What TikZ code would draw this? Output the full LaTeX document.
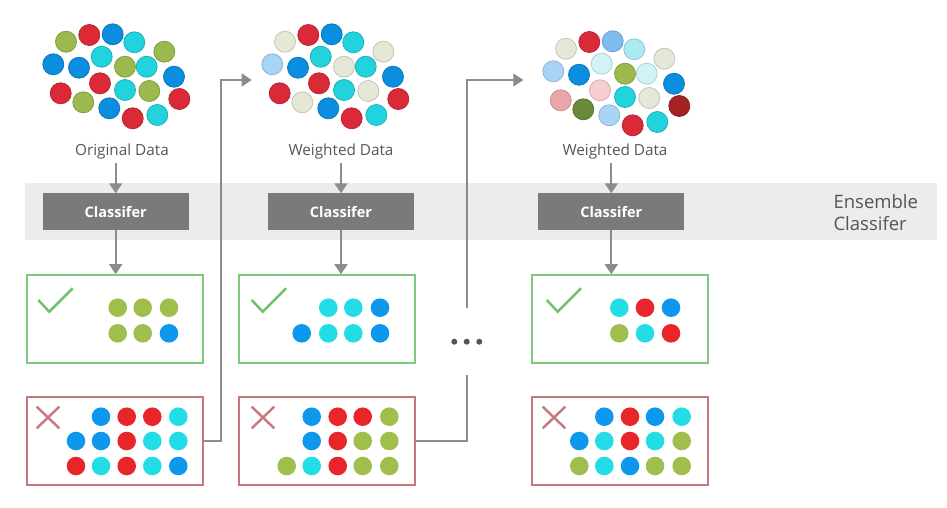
\documentclass[tikz,border=0pt]{standalone}
\usepackage{fontspec}
\setmainfont{Open Sans}
\usetikzlibrary{arrows.meta}

\definecolor{bandgray}{HTML}{ECECEC}
\definecolor{clfgray}{HTML}{7A7A7A}
\definecolor{linegray}{HTML}{8C8C8C}
\definecolor{textgray}{HTML}{555555}
\definecolor{okgreen}{HTML}{80C87B}
\definecolor{badred}{HTML}{C8767D}
\definecolor{tickgreen}{HTML}{6FC26B}
\definecolor{crossred}{HTML}{C97A80}
% cloud colours
\definecolor{cgreen}{HTML}{9BB94D}
\definecolor{cred}{HTML}{DA2A38}
\definecolor{cblue}{HTML}{0C8EE0}
\definecolor{ccyan}{HTML}{22D2DC}
\definecolor{cpale}{HTML}{E5E7D7}
\definecolor{clblue}{HTML}{A8D4F6}
\definecolor{cmblue}{HTML}{7FBCF0}
\definecolor{clcyan}{HTML}{ABEAF0}
\definecolor{cvcyan}{HTML}{D0F3F6}
\definecolor{cpink}{HTML}{EBA6A9}
\definecolor{clpink}{HTML}{F5CDD3}
\definecolor{cdgreen}{HTML}{6A8A3A}
\definecolor{cdred}{HTML}{A42222}
% dot colours
\definecolor{dgreen}{HTML}{A0BE4C}
\definecolor{dred}{HTML}{E8262A}
\definecolor{dblue}{HTML}{0D98EE}
\definecolor{dcyan}{HTML}{22DDE6}

\begin{document}
\begin{tikzpicture}[x=1pt, y=-1pt, >={Triangle[width=13pt,length=10pt]},
  line/.style={draw=linegray, line width=1.8pt},
  ball/.style={fill=#1, draw=#1!85!black, line width=0.8pt},
  datatext/.style={text=textgray, font=\fontsize{15.3}{18}\selectfont},
  clf/.style={fill=clfgray, text=white, minimum width=146pt, minimum height=36.5pt, font=\fontsize{14.5}{18}\selectfont\bfseries},
  okbox/.style={draw=okgreen, line width=2pt, minimum width=176pt, minimum height=88pt},
  badbox/.style={draw=badred, line width=2pt, minimum width=176pt, minimum height=88pt},
  tick/.style={draw=tickgreen, line width=2.5pt},
  cross/.style={draw=crossred, line width=2.5pt}]
\useasboundingbox (0,0) rectangle (947,507);

\fill[bandgray] (25,183) rectangle (937,240);

\foreach \x/\y/\ca/\cb/\cc in {66/41.7/cgreen/cpale/cpale, 89.3/35/cred/cred/cred,
  112.7/34.3/cblue/cblue/cmblue, 134.3/42.3/ccyan/ccyan/clcyan, 164.3/51.7/cgreen/cpale/cpale,
  53.3/64.3/cblue/clblue/clblue, 79/67.7/cblue/cblue/cblue, 101.7/56.7/ccyan/ccyan/cvcyan,
  125/66.7/cgreen/cpale/cgreen, 146.7/66.7/ccyan/ccyan/cvcyan, 174/76.7/cblue/cblue/cblue,
  60.7/93.3/cred/cred/cpink, 100/83.3/cred/cred/clpink, 83.3/102.3/cgreen/cpale/cdgreen,
  125/90/ccyan/ccyan/ccyan, 149.3/91/cgreen/cpale/cpale, 179.3/99/cred/cred/cdred,
  109.3/108.3/cblue/cblue/clblue, 132.7/118.3/cred/cred/cred, 157.3/115/ccyan/ccyan/ccyan}
{
    \filldraw[ball=\ca] (\x,\y) circle (10.5pt);
    \filldraw[ball=\cb] (\x+219,\y) circle (10.5pt);
    \filldraw[ball=\cc] (\x+500,\y+7) circle (10.5pt);
}

\node[datatext] (data1) at (122,151.5) {Original Data};
\node[datatext] (data2) at (341,151.5) {Weighted Data};
\node[datatext] (data3) at (615,151.5) {Weighted Data};

\node[clf] (clf1) at (115.7,211.7) {Classifer};
\node[clf] (clf2) at (341,211.7) {Classifer};
\node[clf] (clf3) at (611.3,211.7) {Classifer};

\node[text=textgray, font=\fontsize{18.5}{21.7}\selectfont, align=left, anchor=west] (ens) at (830,212.5) {Ensemble\\Classifer};

\node[okbox] (ok1) at (114.7,319.2) {};
\node[okbox] (ok2) at (326.7,319.2) {};
\node[okbox] (ok3) at (619.7,319.2) {};
\node[badbox] (bad1) at (114.7,440.8) {};
\node[badbox] (bad2) at (326.7,440.8) {};
\node[badbox] (bad3) at (619.7,440.8) {};

\foreach \i in {1,2,3}
{
    \draw[line,->] (data\i.south -| clf\i) -- (clf\i);
    \draw[line,->] (clf\i.south) -- (clf\i.south |- ok\i.north);
}

\coordinate (in2) at (251.7,80);
\coordinate (in3) at (523.3,80);
\coordinate (gap) at (466.7,341.7);
\draw[line,->] (bad1.east) -- ++(17.3,0) |- (in2);
\draw[line, shorten >=33.4pt] (bad2.east) -| (gap);
\draw[line,->, shorten <=33.4pt] (gap) |- (in3);
\foreach \x in {454.3,466.7,479.3}
{
    \fill[textgray] (\x,341.7) circle (3pt);
}

\foreach \x in {38.3,251.7,546.7}
{
    \draw[tick] (\x,300) -- ++(11,11.7) -- ++(23.4,-23.4);
}
\foreach \x in {36.7,251.7,542.7}
{
    \draw[cross] (\x,406.7) -- ++(22.6,21.6) (\x,428.3) -- ++(22.6,-21.6);
}

\foreach \x/\y/\c in {117.7/307.7/dgreen, 142.7/307.7/dgreen, 169/307.7/dgreen,
  117.7/333.3/dgreen, 142.7/333.3/dgreen, 169/333.3/dblue,
  328.3/307.7/dcyan, 353.3/307.7/dcyan, 380/307.7/dblue,
  301.7/333.3/dblue, 328.3/333.3/dcyan, 353.3/333.3/dcyan, 380/333.3/dblue,
  619.3/307.7/dcyan, 645/307.7/dred, 671/307.7/dblue,
  619.3/333.3/dgreen, 645/333.3/dcyan, 671/333.3/dred}
{
    \fill[\c] (\x,\y) circle (9.3pt);
}

\foreach \x/\y/\c in {101/416.7/dblue, 126.7/416.7/dred, 152.3/416.7/dred, 178.3/416.7/dcyan,
  76/441/dblue, 101/441/dblue, 126.7/441/dred, 152.3/441/dcyan, 178.3/441/dcyan,
  76/466/dred, 101/466/dcyan, 126.7/466/dred, 152.3/466/dcyan, 178.3/466/dblue,
  311.7/416.7/dblue, 337.7/416.7/dred, 362.7/416.7/dred, 389.3/416.7/dgreen,
  311.7/441/dblue, 337.7/441/dred, 362.7/441/dgreen, 389.3/441/dgreen,
  286.7/466/dgreen, 311.7/466/dcyan, 337.7/466/dred, 362.7/466/dgreen, 389.3/466/dgreen,
  604.3/416.7/dblue, 630/416.7/dred, 655/416.7/dblue, 681.7/416.7/dcyan,
  579.3/441/dblue, 604.3/441/dcyan, 630/441/dred, 655/441/dcyan, 681.7/441/dgreen,
  579.3/466/dgreen, 604.3/466/dcyan, 630/466/dblue, 655/466/dgreen, 681.7/466/dgreen}
{
    \fill[\c] (\x,\y) circle (9.3pt);
}
\end{tikzpicture}
\end{document}
